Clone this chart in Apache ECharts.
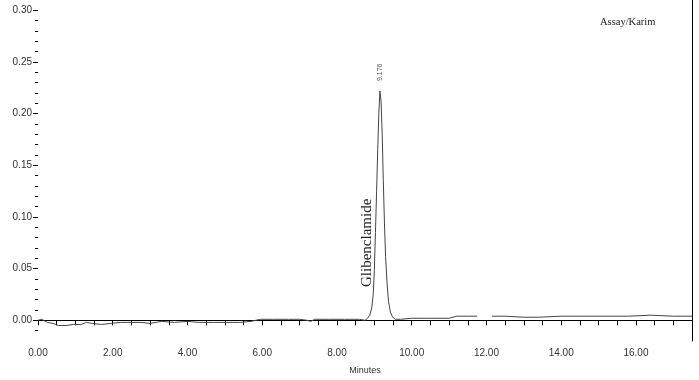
<!DOCTYPE html>
<html><head><meta charset="utf-8">
<script src="https://cdn.jsdelivr.net/npm/echarts@6/dist/echarts.min.js"></script>
<style>html,body{margin:0;padding:0;background:#fff}#c{width:699px;height:380px}</style>
</head><body><div id="c"></div><script>
const minutes=[0.00,0.10,0.25,0.40,0.55,0.75,0.95,1.15,1.30,1.45,1.70,1.95,2.20,2.50,2.75,3.00,3.30,3.65,4.00,4.30,4.70,5.05,5.40,5.70,5.95,6.30,6.70,7.00,7.20,7.30,7.40,7.80,8.20,8.60,8.75,8.82,8.88,8.93,8.97,9.00,9.03,9.06,9.09,9.12,9.15,9.18,9.21,9.24,9.27,9.30,9.34,9.38,9.43,9.49,9.56,9.70,10.00,10.50,11.00,11.20,11.50,11.75,11.95,12.15,12.50,13.00,13.40,14.00,14.60,15.20,15.80,16.40,17.00,17.50];
const absorbance=[0.000,0.001,-0.002,-0.003,-0.005,-0.005,-0.004,-0.004,-0.002,-0.003,-0.004,-0.003,-0.002,-0.002,-0.002,-0.003,-0.001,-0.002,-0.001,-0.002,-0.002,-0.002,-0.002,-0.001,0.001,0.001,0.001,0.001,0.000,-0.001,0.001,0.001,0.001,0.001,0.000,0.002,0.005,0.012,0.025,0.048,0.085,0.125,0.165,0.200,0.222,0.212,0.180,0.135,0.095,0.062,0.036,0.018,0.008,0.003,0.001,0.001,0.002,0.002,0.002,0.004,0.004,0.004,null,0.004,0.004,0.003,0.003,0.004,0.004,0.004,0.004,0.005,0.004,0.004];
const xLabelValues=[0,2,4,6,8,10,12,14,16];
const xTickValues=[0,0.5,1,1.5,2,2.5,3,3.5,4,4.5,5,5.5,6,6.5,7,7.5,8,8.5,9,9.5,10,10.5,11,11.5,12,12.5,13,13.5,14,14.5,15,15.5,16,16.5,17];
const yLabelValues=[0,0.05,0.10,0.15,0.20,0.25,0.30];
const yMinorTickValues=[-0.01,0.01,0.02,0.03,0.04,0.06,0.07,0.08,0.09,0.11,0.12,0.13,0.14,0.16,0.17,0.18,0.19,0.21,0.22,0.23,0.24,0.26,0.27,0.28,0.29];
const peakName='Glibenclamide';
const peakTime='9.176';
const peakLabelPos=[8.80,0.075];
const peakTimePos=[9.15,0.240];
const title='Assay/Karim';

const chart=echarts.init(document.getElementById('c'));
const lbl={fontSize:10,color:'#333',fontFamily:'Liberation Sans'};
chart.setOption({
  animation:false,
  grid:{left:38,right:7,top:0,bottom:39,containLabel:false,outerBoundsMode:'none'},
  xAxis:{type:'value',min:0,max:17.5,
    axisLine:{show:true,lineStyle:{color:'#000',width:1}},
    axisTick:{show:true,customValues:xTickValues,length:5,lineStyle:{color:'#000'}},
    axisLabel:Object.assign({customValues:xLabelValues,formatter:v=>v.toFixed(2),margin:7},lbl),
    splitLine:{show:false},
    name:'Minutes',nameLocation:'middle',nameGap:25,
    nameTextStyle:{fontSize:9,color:'#333',fontFamily:'Liberation Sans'}},
  yAxis:[
    {type:'value',min:-0.02,max:0.31,position:'left',
     axisLine:{show:false},
     axisTick:{show:true,customValues:yLabelValues,length:5,lineStyle:{color:'#000'}},
     axisLabel:Object.assign({customValues:yLabelValues,formatter:v=>v.toFixed(2),margin:6},lbl),
     splitLine:{show:false},
     name:'AU',nameLocation:'middle',nameGap:30,nameRotate:90,
     nameTextStyle:{fontSize:9,color:'#333',fontFamily:'Liberation Sans'}},
    {type:'value',min:-0.02,max:0.31,position:'left',
     axisLine:{show:false},
     axisTick:{show:true,customValues:yMinorTickValues,length:3,lineStyle:{color:'#000'}},
     axisLabel:{show:false},splitLine:{show:false}},
    {type:'value',min:-0.02,max:0.31,position:'right',
     axisLine:{show:true,lineStyle:{color:'#000',width:1}},
     axisTick:{show:false},axisLabel:{show:false},splitLine:{show:false}}
  ],
  series:[{type:'line',xAxisIndex:0,yAxisIndex:0,showSymbol:false,connectNulls:false,
    data:minutes.map((t,i)=>[t,absorbance[i]]),
    lineStyle:{color:'#444',width:1}}]
});
const p1=chart.convertToPixel({xAxisIndex:0,yAxisIndex:0},peakLabelPos);
const p2=chart.convertToPixel({xAxisIndex:0,yAxisIndex:0},peakTimePos);
chart.setOption({graphic:[
  {type:'text',x:p1[0],y:p1[1],rotation:Math.PI/2,
   style:{text:peakName,fontSize:15,fontFamily:'Liberation Serif',fill:'#222',align:'center',verticalAlign:'middle'}},
  {type:'text',x:p2[0],y:p2[1],rotation:Math.PI/2,
   style:{text:peakTime,fontSize:7,fontFamily:'Liberation Sans',fill:'#555',align:'center',verticalAlign:'middle'}},
  {type:'text',left:600,top:17,
   style:{text:title,fontSize:10.5,fontFamily:'Liberation Serif',fill:'#222'}}
]});
</script></body></html>
